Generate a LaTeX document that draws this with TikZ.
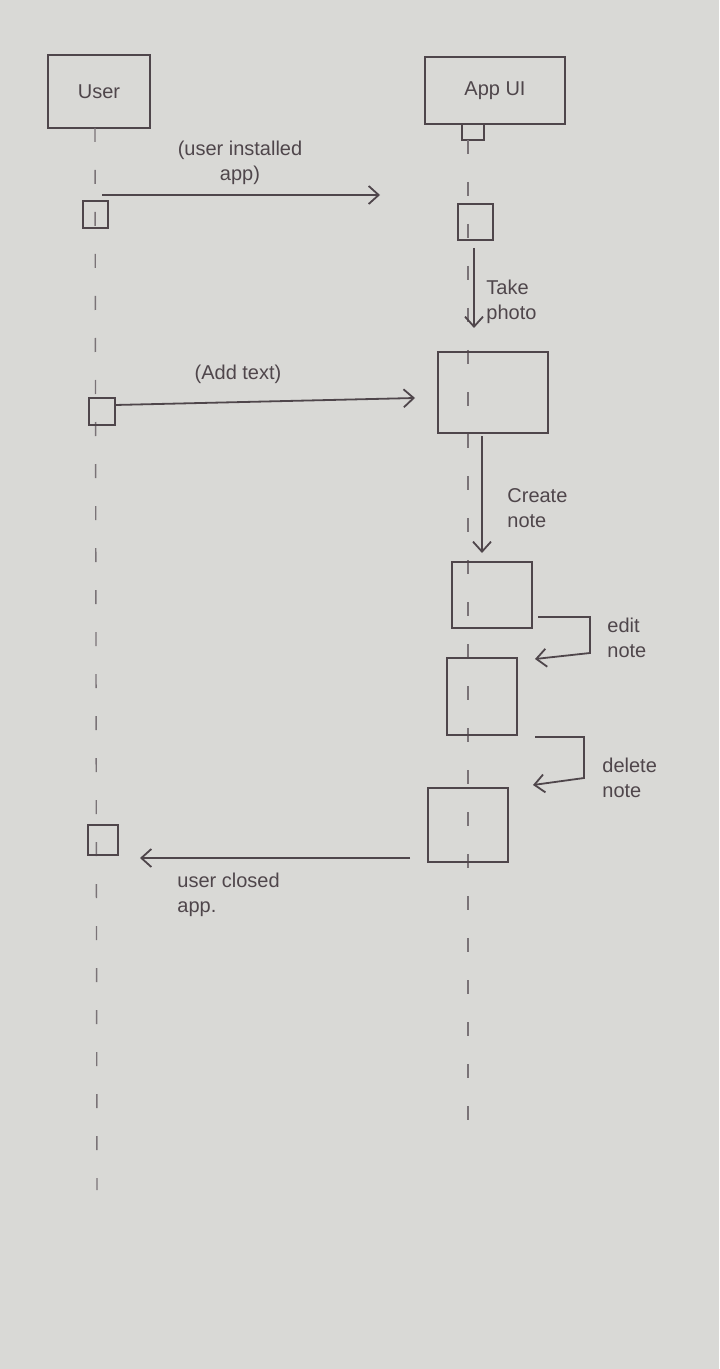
\documentclass[tikz,border=0pt]{standalone}
\usepackage{fontspec}
\setmainfont{Liberation Sans}
\usetikzlibrary{arrows.meta}
\definecolor{paper}{HTML}{D9D9D6}
\definecolor{ink}{HTML}{4F464B}
\definecolor{faint}{HTML}{7A7377}
\tikzset{
  box/.style={draw=ink, line width=1pt, inner sep=0pt, outer sep=0pt, text=ink},
  msg/.style={draw=ink, line width=0.9pt, -{Straight Barb[length=5pt,width=9pt]}},
  life/.style={draw=faint, line width=0.7pt, dash pattern=on 7pt off 14pt},
  lbl/.style={text=ink, font=\fontsize{10}{12.5}\selectfont, align=left, inner sep=1pt}
}
\begin{document}
\begin{tikzpicture}[x=0.5pt,y=-0.5pt]
\fill[paper] (0,0) rectangle (719,1369);
\useasboundingbox (0,0) rectangle (719,1369);
% lifeline ends
\coordinate (uend) at (97,1190);
\coordinate (aend) at (468,1145);
% participants
\node[box, minimum width=51pt, minimum height=36.5pt] (user) at (99,91.5) {\fontsize{10}{12}\selectfont User};
\node[box, minimum width=70pt, minimum height=33.5pt] (appui) at (495,90.5) {\fontsize{10}{12}\selectfont App UI};
\node[box, minimum width=11pt, minimum height=8pt] (appsm) at (473,132) {};
% lifelines
\draw[life] (user.south -| 95,0) -- (uend);
\draw[life] (appsm.south -| 468,0) -- (aend);
% activations user
\node[box, minimum width=12.5pt, minimum height=13.5pt] (ua1) at (95.5,214.5) {};
\node[box, minimum width=13pt, minimum height=13.5pt] (ua2) at (102,411.5) {};
\node[box, minimum width=15pt, minimum height=15pt] (ua3) at (103,840) {};
% activations app
\node[box, minimum width=17.5pt, minimum height=18pt] (aa1) at (475.5,222) {};
\node[box, minimum width=55pt, minimum height=40.5pt] (aa2) at (493,392.5) {};
\node[box, minimum width=40pt, minimum height=33pt] (aa3) at (492,595) {};
\node[box, minimum width=35pt, minimum height=38.5pt] (aa4) at (482,696.5) {};
\node[box, minimum width=40pt, minimum height=37pt] (aa5) at (468,825) {};
% message endpoints
\coordinate (m1s) at (102,195);
\coordinate (m1e) at (380,195);
\coordinate (m2s) at (474,248);
\coordinate (m2e) at (474,328);
\coordinate (m3e) at (415,398);
\coordinate (m4s) at (482,436);
\coordinate (m4e) at (482,553);
\coordinate (e1) at (538,617);
\coordinate (e2) at (590,617);
\coordinate (e3) at (590,653);
\coordinate (e4) at (535,659);
\coordinate (d1) at (535,737);
\coordinate (d2) at (584,737);
\coordinate (d3) at (584,778);
\coordinate (d4) at (533,785);
\coordinate (c1) at (410,858);
\coordinate (c2) at (140,858);
% messages
\draw[msg] (m1s) -- (m1e);
\draw[msg] (m2s) -- (m2e);
\draw[msg] (ua2.east |- 0,405) -- (m3e);
\draw[msg] (m4s) -- (m4e);
\draw[msg] (e1) -- (e2) -- (e3) -- (e4);
\draw[msg] (d1) -- (d2) -- (d3) -- (d4);
\draw[msg] (c1) -- (c2);
% labels
\node[lbl, align=center] (l1) at (240,163) {(user installed\\app)};
\node[lbl] (l2) at (238,374) {(Add text)};
\node[lbl, anchor=west] (l3) at (484,302) {Take\\photo};
\node[lbl, anchor=west] (l4) at (505,508) {Create\\note};
\node[lbl, anchor=west] (l5) at (605,638) {edit\\note};
\node[lbl, anchor=west] (l6) at (600,778) {delete\\note};
\node[lbl, anchor=west] (l7) at (175,895) {user closed\\app.};
\end{tikzpicture}
\end{document}
